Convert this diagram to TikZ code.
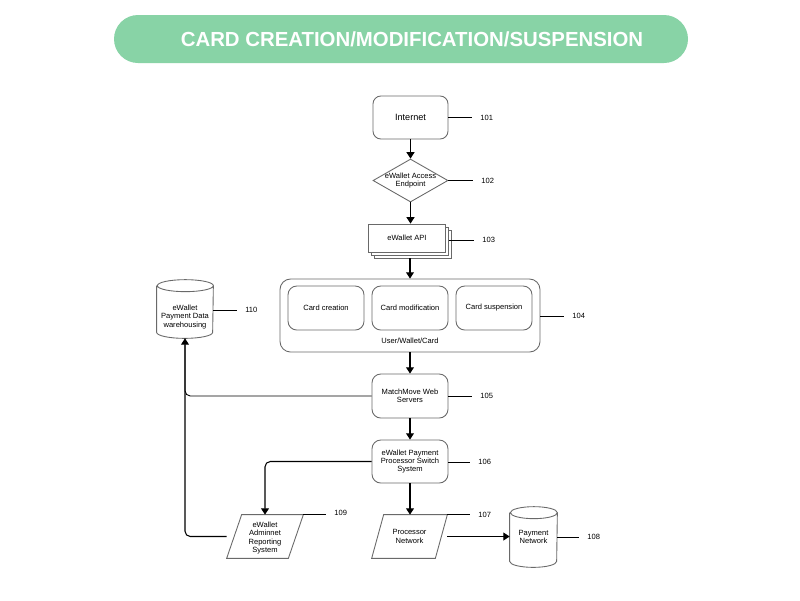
\documentclass[tikz,border=0pt]{standalone}
\usepackage{fontspec}
\setmainfont{Liberation Sans}
\usetikzlibrary{arrows.meta,shapes.geometric,calc}
\definecolor{pillgreen}{RGB}{136,211,166}
\definecolor{edgegray}{RGB}{105,105,105}
\newcommand{\pxu}{0.02cm}
\tikzset{
  box/.style={draw=edgegray, line width=0.5pt, rounded corners=3pt, fill=white, align=center,
    inner sep=0pt, font=\fontsize{4.3}{4.75}\selectfont},
  sheet/.style={draw=edgegray, line width=0.5pt, fill=white, inner sep=0pt,
    minimum width=77*\pxu, minimum height=28*\pxu, font=\fontsize{4.3}{4.75}\selectfont},
  plain/.style={align=center, inner sep=0pt, font=\fontsize{4.3}{4.75}\selectfont},
  outline/.style={draw=edgegray, line width=0.5pt},
  num/.style={anchor=west, inner xsep=8*\pxu, inner ysep=0pt, font=\fontsize{4.3}{4.75}\selectfont},
  tick/.style={line width=0.5pt},
  arrow/.style={line width=0.6pt, -{Triangle[width=4.5pt,length=3.6pt]}}
}
\newcommand{\drum}[3]{%
  \draw[outline] ($(#1.north west)+(0,#3)$) -- ($(#1.south west)+(0,-#3)$)
    arc[start angle=180, end angle=360, x radius=#2*\pxu, y radius=#3*\pxu]
    -- ($(#1.north east)+(0,#3)$)
    arc[start angle=0, end angle=180, x radius=#2*\pxu, y radius=#3*\pxu]
    arc[start angle=180, end angle=360, x radius=#2*\pxu, y radius=#3*\pxu];}

\begin{document}
\begin{tikzpicture}[x=0.02cm, y=-0.02cm]
        \fill[white] (0,0) rectangle (800,600);
        \useasboundingbox (0,0) rectangle (800,600);

        \node[fill=pillgreen, rounded corners=24*\pxu, minimum width=574*\pxu, minimum height=48*\pxu] (pill) at (401,39) {};
        \node[text=white, font=\fontsize{11.6}{14}\selectfont\bfseries] (title) at (412,39) {CARD CREATION/MODIFICATION/SUSPENSION};

        \node[box, rounded corners=4.5pt, minimum width=75*\pxu, minimum height=43*\pxu, font=\fontsize{5.2}{6}\selectfont] (inet) at (410.5,117.5) {Internet};
        \node[diamond, outline, fill=white, inner sep=0pt, minimum width=75*\pxu, minimum height=43*\pxu] (acc) at (410.5,180.5) {};
        \node[plain] (acctxt) at (acc.center) {eWallet Access\\Endpoint};
        \node[sheet] (api3) at (413,244) {};
        \node[sheet] (api2) at (410,241) {};
        \node[sheet] (api) at (407,238) {eWallet API};

        \node[box, rounded corners=6pt, minimum width=260*\pxu, minimum height=73*\pxu] (uwc) at (410,315.5) {};
        \node[plain] (uwctxt) at (410,341) {User/Wallet/Card};
        \node[box, rounded corners=5pt, minimum width=76*\pxu, minimum height=44*\pxu] (cc) at (326,308) {Card creation};
        \node[box, rounded corners=5pt, minimum width=76*\pxu, minimum height=44*\pxu] (cm) at (410,308) {Card modification};
        \node[box, rounded corners=5pt, minimum width=76*\pxu, minimum height=44*\pxu] (cs) at (494,308) {Card suspension};

        \node[box, rounded corners=5pt, minimum width=76*\pxu, minimum height=44*\pxu] (mm) at (410,396) {MatchMove Web\\Servers};
        \node[box, rounded corners=5pt, minimum width=76*\pxu, minimum height=43*\pxu] (pps) at (410,461.5) {eWallet Payment\\Processor Switch\\System};

        \node[plain, minimum width=56*\pxu, minimum height=58*\pxu] (dw) at (185,309) {};
        \node[plain] (dwtxt) at (185,317) {eWallet\\Payment Data\\warehousing};
        \node[plain, minimum width=76*\pxu, minimum height=43*\pxu] (rs) at (265,536.5) {};
        \node[plain] (rstxt) at (265,538) {eWallet\\Adminnet\\Reporting\\System};
        \node[plain, minimum width=75*\pxu, minimum height=43*\pxu] (pr) at (409.5,536.5) {Processor\\Network};
        \node[plain, minimum width=47*\pxu, minimum height=60*\pxu] (pn) at (533.5,537) {Payment\\Network};

        \drum{dw}{28}{6}
        \drum{pn}{23.5}{6}
        \draw[outline] (rs.south west) -- ($(rs.north west)+(15,0)$) -- (rs.north east) -- ($(rs.south east)+(-15,0)$) -- cycle;
        \draw[outline] (pr.south west) -- ($(pr.north west)+(12,0)$) -- (pr.north east) -- ($(pr.south east)+(-12,0)$) -- cycle;

        \node[num] (n101) at (472,117.5) {101};
        \node[num] (n102) at (473,180.5) {102};
        \node[num] (n103) at (474,240) {103};
        \node[num] (n104) at (564,316) {104};
        \node[num] (n105) at (472,396) {105};
        \node[num] (n106) at (470,462) {106};
        \node[num] (n107) at (470,515) {107};
        \node[num] (n108) at (579,537) {108};
        \node[num] (n109) at (326,513) {109};
        \node[num] (n110) at (237,310) {110};

        \draw[tick] (inet.east) -- (n101.west);
        \draw[tick] (acc.east) -- (n102.west);
        \draw[tick] (n103.west -| api2.east) -- (n103.west);
        \draw[tick] (n104.west -| uwc.east) -- (n104.west);
        \draw[tick] (mm.east) -- (n105.west);
        \draw[tick] (n106.west -| pps.east) -- (n106.west);
        \draw[tick] (pr.north east) -- (n107.west |- pr.north east);
        \draw[tick] (pn.east) -- (n108.west);
        \draw[tick] (rs.north east) -- (n109.west |- rs.north east);
        \draw[tick] (n110.west -| dw.east) -- (n110.west);

        \draw[arrow] (inet) -- (acc);
        \draw[arrow] (acc.south) -- (acc.south |- api.north);
        \draw[arrow] (api3.south -| uwc.north) -- (uwc.north);
        \draw[arrow] (uwc) -- (mm);
        \draw[arrow] (mm) -- (pps);
        \draw[arrow] (pps.south) -- (pps.south |- pr.north);
        \draw[arrow, rounded corners=3pt] (pps.west) -| (rs.north);
        \draw[arrow] (pr.east) -- (pr.east -| pn.west);
        \draw[arrow, rounded corners=3pt] (rs.west) -| (dw.south);
        \draw[tick, rounded corners=3pt] (mm.west) -| (dw.south);
        \end{tikzpicture}
\end{document}
